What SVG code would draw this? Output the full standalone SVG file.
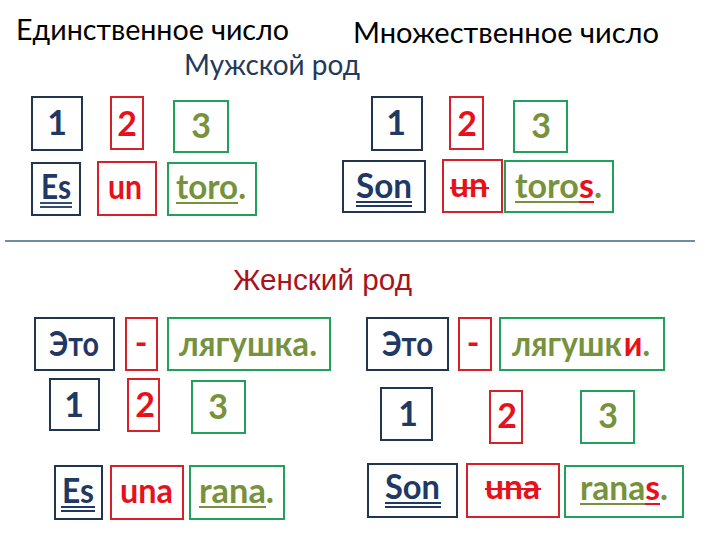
<svg xmlns="http://www.w3.org/2000/svg" width="720" height="540" viewBox="0 0 720 540">
<style>
.bn{fill:none;stroke:#1f3550;stroke-width:2}
.br{fill:none;stroke:#d8202a;stroke-width:2}
.bg{fill:none;stroke:#21a05a;stroke-width:2}
.w{font-family:Lato,"Noto Sans",sans-serif;font-weight:bold;font-size:34px}
.n{fill:#1f3864}
.r{fill:#e8101a}
.o{fill:#76923c}
.h{font-family:Lato,"Noto Sans",sans-serif;font-size:28px}
</style>
<rect width="720" height="540" fill="#ffffff"/>
<g id="headers">
<text class="h" x="16" y="40" fill="#000" textLength="273" lengthAdjust="spacingAndGlyphs">Единственное число</text>
<text class="h" x="353" y="43" fill="#000" textLength="306" lengthAdjust="spacingAndGlyphs">Множественное число</text>
<text class="h" x="184" y="75" fill="#1f3a5a" textLength="176" lengthAdjust="spacingAndGlyphs">Мужской род</text>
<text x="233" y="290" fill="#a8141c" font-family="'Liberation Sans',Arial,sans-serif" font-size="30" textLength="179" lengthAdjust="spacingAndGlyphs">Женский род</text>
</g>
<g id="divider"><line x1="5" y1="241" x2="695" y2="241" stroke="#3a6a80" stroke-width="1.3"/></g>

<!-- Masculine singular -->
<g id="ms1"><rect class="bn" x="32" y="97" width="50" height="53"/><text class="w n" x="57" y="135" text-anchor="middle">1</text></g>
<g id="ms2"><rect class="br" x="111" y="97" width="32" height="52"/><text class="w r" x="127" y="136" text-anchor="middle">2</text></g>
<g id="ms3"><rect class="bg" x="174" y="101" width="54" height="51"/><text class="w o" x="201" y="138" text-anchor="middle">3</text></g>
<g id="msEs"><rect class="bn" x="32" y="163" width="48" height="52"/><text class="w n" x="41" y="199" textLength="30" lengthAdjust="spacingAndGlyphs">Es</text>
<line x1="40" y1="203" x2="72" y2="203" stroke="#1f3864" stroke-width="1.8"/><line x1="40" y1="207" x2="72" y2="207" stroke="#1f3864" stroke-width="1.8"/></g>
<g id="msUn"><rect class="br" x="98" y="162" width="58" height="53"/><text class="w r" x="108" y="199" textLength="34" lengthAdjust="spacingAndGlyphs">un</text></g>
<g id="msToro"><rect class="bg" x="168" y="163" width="88" height="52"/><text class="w o" x="176" y="199" textLength="70" lengthAdjust="spacingAndGlyphs">toro.</text>
<line x1="176" y1="203" x2="238" y2="203" stroke="#76923c" stroke-width="2"/></g>

<!-- Masculine plural -->
<g id="mp1"><rect class="bn" x="372" y="97" width="50" height="53"/><text class="w n" x="396" y="135" text-anchor="middle">1</text></g>
<g id="mp2"><rect class="br" x="450" y="97" width="33" height="52"/><text class="w r" x="467" y="136" text-anchor="middle">2</text></g>
<g id="mp3"><rect class="bg" x="514" y="101" width="53" height="51"/><text class="w o" x="541" y="138" text-anchor="middle">3</text></g>
<g id="mpSon"><rect class="bn" x="343" y="161" width="82" height="51"/><text class="w n" x="356" y="198" textLength="56" lengthAdjust="spacingAndGlyphs">Son</text>
<line x1="356" y1="202" x2="412" y2="202" stroke="#1f3864" stroke-width="1.8"/><line x1="356" y1="206" x2="412" y2="206" stroke="#1f3864" stroke-width="1.8"/></g>
<g id="mpUn"><rect class="br" x="443" y="160" width="59" height="52"/><text class="w r" x="450" y="197" textLength="38" lengthAdjust="spacingAndGlyphs">un</text>
<line x1="450" y1="188" x2="489" y2="188" stroke="#e8101a" stroke-width="2"/></g>
<g id="mpToros"><rect class="bg" x="505" y="161" width="108" height="51"/><text class="w" x="515" y="198" textLength="87" lengthAdjust="spacingAndGlyphs"><tspan class="o">toro</tspan><tspan class="r">s</tspan><tspan class="o">.</tspan></text>
<line x1="515" y1="202" x2="579" y2="202" stroke="#76923c" stroke-width="2"/><line x1="579" y1="202" x2="594" y2="202" stroke="#e8101a" stroke-width="2"/></g>

<!-- Feminine singular -->
<g id="fsEto"><rect class="bn" x="35" y="318" width="79" height="52"/><text class="w n" x="49" y="356" textLength="50" lengthAdjust="spacingAndGlyphs">Это</text></g>
<g id="fsDash"><rect class="br" x="126" y="318" width="31" height="52"/><text class="w r" x="141" y="355" text-anchor="middle">-</text></g>
<g id="fsWord"><rect class="bg" x="168" y="318" width="162" height="52"/><text class="w o" x="179" y="356" textLength="138" lengthAdjust="spacingAndGlyphs">лягушка.</text></g>
<g id="fs1"><rect class="bn" x="50" y="379" width="49" height="51"/><text class="w n" x="74" y="417" text-anchor="middle">1</text></g>
<g id="fs2"><rect class="br" x="128" y="379" width="31" height="52"/><text class="w r" x="145" y="417" text-anchor="middle">2</text></g>
<g id="fs3"><rect class="bg" x="192" y="381" width="53" height="52"/><text class="w o" x="218" y="419" text-anchor="middle">3</text></g>
<g id="fsEs"><rect class="bn" x="55" y="466" width="47" height="53"/><text class="w n" x="62" y="503" textLength="32" lengthAdjust="spacingAndGlyphs">Es</text>
<line x1="61" y1="507" x2="95" y2="507" stroke="#1f3864" stroke-width="1.8"/><line x1="61" y1="511" x2="95" y2="511" stroke="#1f3864" stroke-width="1.8"/></g>
<g id="fsUna"><rect class="br" x="111" y="466" width="72" height="53"/><text class="w r" x="120" y="503" textLength="53" lengthAdjust="spacingAndGlyphs">una</text></g>
<g id="fsRana"><rect class="bg" x="190" y="466" width="94" height="53"/><text class="w o" x="199" y="503" textLength="75" lengthAdjust="spacingAndGlyphs">rana.</text>
<line x1="199" y1="507" x2="266" y2="507" stroke="#76923c" stroke-width="2"/></g>

<!-- Feminine plural -->
<g id="fpEto"><rect class="bn" x="367" y="318" width="81" height="52"/><text class="w n" x="382" y="356" textLength="51" lengthAdjust="spacingAndGlyphs">Это</text></g>
<g id="fpDash"><rect class="br" x="459" y="318" width="32" height="52"/><text class="w r" x="473" y="355" text-anchor="middle">-</text></g>
<g id="fpWord"><rect class="bg" x="500" y="318" width="164" height="52"/><text class="w" x="512" y="356" textLength="138" lengthAdjust="spacingAndGlyphs"><tspan class="o">лягушк</tspan><tspan class="r" dx="2">и</tspan><tspan class="o">.</tspan></text></g>
<g id="fp1"><rect class="bn" x="381" y="388" width="51" height="52"/><text class="w n" x="408" y="426" text-anchor="middle">1</text></g>
<g id="fp2"><rect class="br" x="490" y="391" width="32" height="52"/><text class="w r" x="507" y="428" text-anchor="middle">2</text></g>
<g id="fp3"><rect class="bg" x="581" y="391" width="53" height="52"/><text class="w o" x="608" y="428" text-anchor="middle">3</text></g>
<g id="fpSon"><rect class="bn" x="368" y="464" width="89" height="53"/><text class="w n" x="385" y="499" textLength="55" lengthAdjust="spacingAndGlyphs">Son</text>
<line x1="385" y1="503" x2="441" y2="503" stroke="#1f3864" stroke-width="1.8"/><line x1="385" y1="507" x2="441" y2="507" stroke="#1f3864" stroke-width="1.8"/></g>
<g id="fpUna"><rect class="br" x="467" y="464" width="92" height="53"/><text class="w r" x="485" y="499" textLength="55" lengthAdjust="spacingAndGlyphs">una</text>
<line x1="485" y1="489" x2="541" y2="489" stroke="#e8101a" stroke-width="2"/></g>
<g id="fpRanas"><rect class="bg" x="565" y="466" width="118" height="51"/><text class="w" x="580" y="500" textLength="88" lengthAdjust="spacingAndGlyphs"><tspan class="o">rana</tspan><tspan class="r">s</tspan><tspan class="o">.</tspan></text>
<line x1="580" y1="504" x2="645" y2="504" stroke="#76923c" stroke-width="2"/><line x1="645" y1="504" x2="660" y2="504" stroke="#e8101a" stroke-width="2"/></g>
</svg>
